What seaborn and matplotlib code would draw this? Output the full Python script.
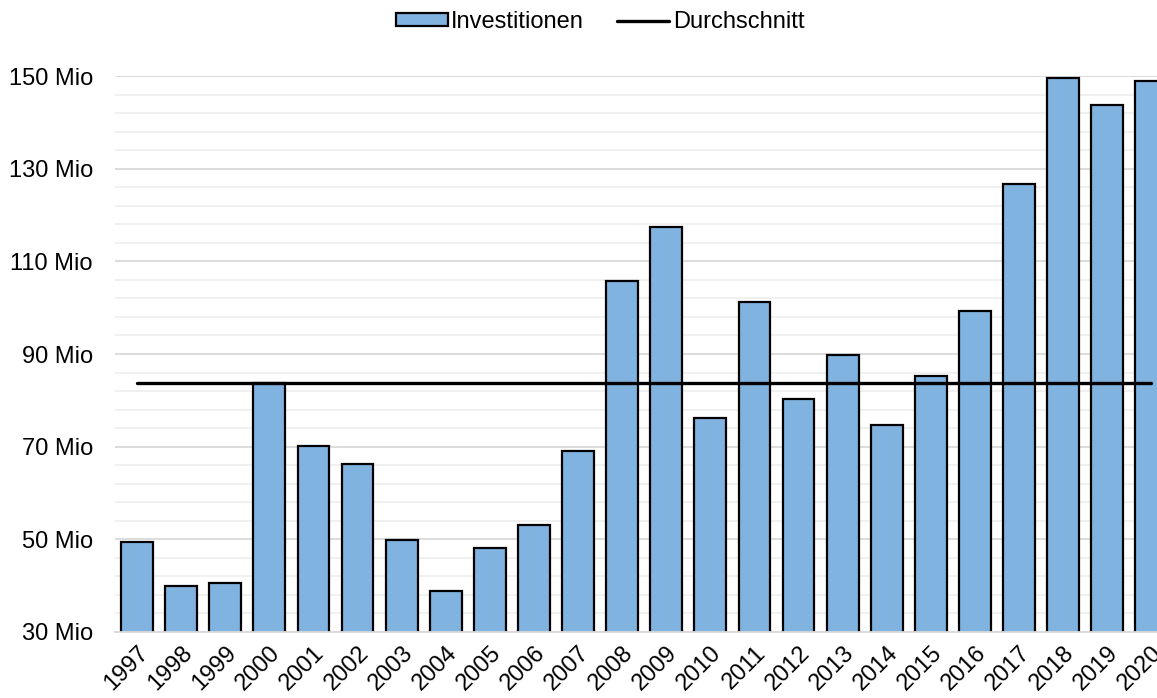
import matplotlib
matplotlib.use("Agg")
import matplotlib.pyplot as plt
from matplotlib.ticker import FixedLocator, FuncFormatter
from matplotlib.patches import Patch
from matplotlib.lines import Line2D
import seaborn as sns
import numpy as np
import pandas as pd

years = [str(y) for y in range(1997, 2021)]
investitionen = [49.4, 39.9, 40.6, 83.7, 70.1, 66.3, 49.9, 38.8, 48.1, 53.1, 69.1, 105.8,
                 117.4, 76.2, 101.2, 80.3, 89.8, 74.7, 85.3, 99.3, 126.7, 149.6, 143.7, 148.9]
series_labels = ["Investitionen", "Durchschnitt"]
y_ticks = [30, 50, 70, 90, 110, 130, 150]

sns.set_theme(style="white")
plt.rcParams['font.family'] = ['Liberation Sans', 'DejaVu Sans']
plt.rcParams['text.color'] = 'black'

df = pd.DataFrame({"Jahr": years, "Wert": investitionen})
avg = float(np.mean(investitionen))

W, H = 1157, 698
fig = plt.figure(figsize=(W / 100, H / 100), dpi=100)
slot = 44.1
left, bottom, top = 115, 632, 76
ax = fig.add_axes([left / W, (H - bottom) / H, 24 * slot / W, (bottom - top) / H])

bar_color = "#80B3E0"
sns.barplot(data=df, x="Jahr", y="Wert", ax=ax, color=bar_color, saturation=1,
            width=0.72, edgecolor="black", linewidth=1.6, zorder=3)
xs = np.arange(len(years))
ax.plot(xs, [avg] * len(years), color="black", linewidth=2.4, zorder=4)

ax.set_xlim(-0.5, len(years) - 0.5)
ax.set_ylim(y_ticks[0], y_ticks[-1])
ax.yaxis.set_major_locator(FixedLocator(y_ticks))
ax.yaxis.set_minor_locator(FixedLocator([v for v in range(30, 151, 4) if v not in y_ticks]))
ax.yaxis.set_major_formatter(FuncFormatter(lambda v, p: f"{int(round(v))} Mio"))
ax.grid(axis="y", which="major", color="#D9D9D9", linewidth=1.3, zorder=0)
ax.grid(axis="y", which="minor", color="#EFEFEF", linewidth=1.3, zorder=0)
ax.set_axisbelow(True)

for s in ["top", "right", "left"]:
    ax.spines[s].set_visible(False)
ax.spines["bottom"].set_color("#D9D9D9")
ax.spines["bottom"].set_linewidth(1.3)
ax.spines["bottom"].set_zorder(5)

ax.set_xlabel("")
ax.set_ylabel("")
ax.xaxis.set_minor_locator(FixedLocator(np.arange(-0.5, len(years), 1.0)))
ax.tick_params(axis="x", which="major", length=0, pad=7, labelsize=17, colors="black")
ax.tick_params(axis="x", which="minor", length=6, width=1.3, color="#D9D9D9", direction="out")
ax.tick_params(axis="y", which="both", length=0, pad=16, labelsize=17, colors="black")
for lbl in ax.get_xticklabels():
    lbl.set_rotation(45)
    lbl.set_ha("right")
    lbl.set_rotation_mode("anchor")

handles = [Patch(facecolor=bar_color, edgecolor="black", linewidth=1.6),
           Line2D([0], [0], color="black", linewidth=2.4)]
fig.legend(handles, series_labels, loc="center", bbox_to_anchor=(600 / W, 1 - 22 / H),
           ncol=2, frameon=False, fontsize=17, handlelength=2.2, handleheight=0.45,
           handletextpad=0.15, columnspacing=1.4, borderpad=0)

fig.savefig("out.png", dpi=100)
